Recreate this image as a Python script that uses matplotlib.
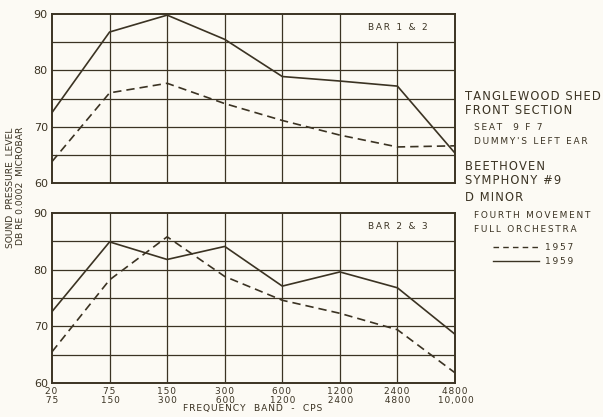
import matplotlib.pyplot as plt

bands = ['20\n75', '75\n150', '150\n300', '300\n600', '600\n1200',
         '1200\n2400', '2400\n4800', '4800\n10,000']
x = list(range(len(bands)))

# bar 1 & 2
top_1959 = [72.5, 86.8, 89.8, 85.5, 78.9, 78.1, 77.2, 65.3]
top_1957 = [63.8, 76.0, 77.7, 74.1, 71.1, 68.5, 66.4, 66.6]
# bar 2 & 3
bot_1959 = [72.6, 84.9, 81.8, 84.1, 77.1, 79.6, 76.8, 68.6]
bot_1957 = [65.5, 78.2, 85.8, 78.8, 74.6, 72.3, 69.4, 61.8]

ink = '#3b3323'
bg = '#fcfaf4'
W, H = 603, 417


def track(s, sep='\u2009'):
    # wide letter spacing like the lettering-guide text of the original
    return sep.join(s)


fig = plt.figure(figsize=(6.03, 4.17), dpi=100, facecolor=bg)


def panel(y0, y1, s57, s59, label, show_x):
    ax = fig.add_axes([52 / W, (H - y1) / H, (455 - 52) / W, (y1 - y0) / H])
    ax.set_facecolor(bg)
    ax.set_xlim(0, 7)
    ax.set_ylim(60, 90)
    for v in [65, 70, 75, 80, 85]:
        ax.axhline(v, color=ink, lw=0.9)
    ax.vlines([1, 2, 3, 4, 5], 60, 90, color=ink, lw=0.9)
    ax.vlines([6], 60, 85, color=ink, lw=0.9)
    ax.plot(x, s59, color=ink, lw=1.2)
    ax.plot(x, s57, color=ink, lw=1.2, dashes=(5, 3))
    ax.text(6, 87.6, track(label), ha='center', va='center', fontsize=6.5,
            color=ink)
    for sp in ax.spines.values():
        sp.set_color(ink)
        sp.set_linewidth(1.4)
    ax.set_yticks([60, 70, 80, 90])
    ax.set_xticks(x)
    ax.tick_params(length=0, colors=ink, labelsize=8, pad=3)
    if show_x:
        ax.set_xticklabels([track(b, '\u200a') for b in bands], fontsize=6.5,
                           linespacing=0.95)
    else:
        ax.set_xticklabels([])
    return ax


panel(14, 183, top_1957, top_1959, 'BAR 1 & 2', False)
panel(213, 383, bot_1957, bot_1959, 'BAR 2 & 3', True)

fig.text(253 / W, 1 - 409 / H, track('FREQUENCY  BAND  -  CPS', '\u200a'),
         ha='center', va='center', fontsize=6.6, color=ink)
fig.text(11 / W, 1 - 188 / H, 'SOUND  PRESSURE  LEVEL',
         rotation=90, ha='center', va='center', fontsize=6.6, color=ink)
fig.text(21 / W, 1 - 186 / H, 'DB RE 0.0002  MICROBAR',
         rotation=90, ha='center', va='center', fontsize=6.6, color=ink)

big = [('TANGLEWOOD SHED', 96), ('FRONT SECTION', 110),
       ('BEETHOVEN', 166), ('SYMPHONY #9', 181), ('D MINOR', 198)]
small = [('SEAT  9 F 7', 127), ("DUMMY'S LEFT EAR", 141),
         ('FOURTH MOVEMENT', 215), ('FULL ORCHESTRA', 229)]
for s, yy in big:
    fig.text(465 / W, 1 - yy / H, track(s, '\u200a'), ha='left',
             va='center', fontsize=8.3, color=ink)
for s, yy in small:
    fig.text(474 / W, 1 - yy / H, track(s), ha='left', va='center',
             fontsize=6.5, color=ink)

fig.add_artist(plt.Line2D([493 / W, 539 / W], [1 - 247 / H] * 2,
                          color=ink, lw=1.0, dashes=(4, 3)))
fig.add_artist(plt.Line2D([493 / W, 539 / W], [1 - 261 / H] * 2,
                          color=ink, lw=1.0))
fig.text(545 / W, 1 - 247 / H, track('1957'), ha='left', va='center',
         fontsize=6.5, color=ink)
fig.text(545 / W, 1 - 261 / H, track('1959'), ha='left', va='center',
         fontsize=6.5, color=ink)

fig.savefig('out.png', dpi=100, facecolor=bg)
